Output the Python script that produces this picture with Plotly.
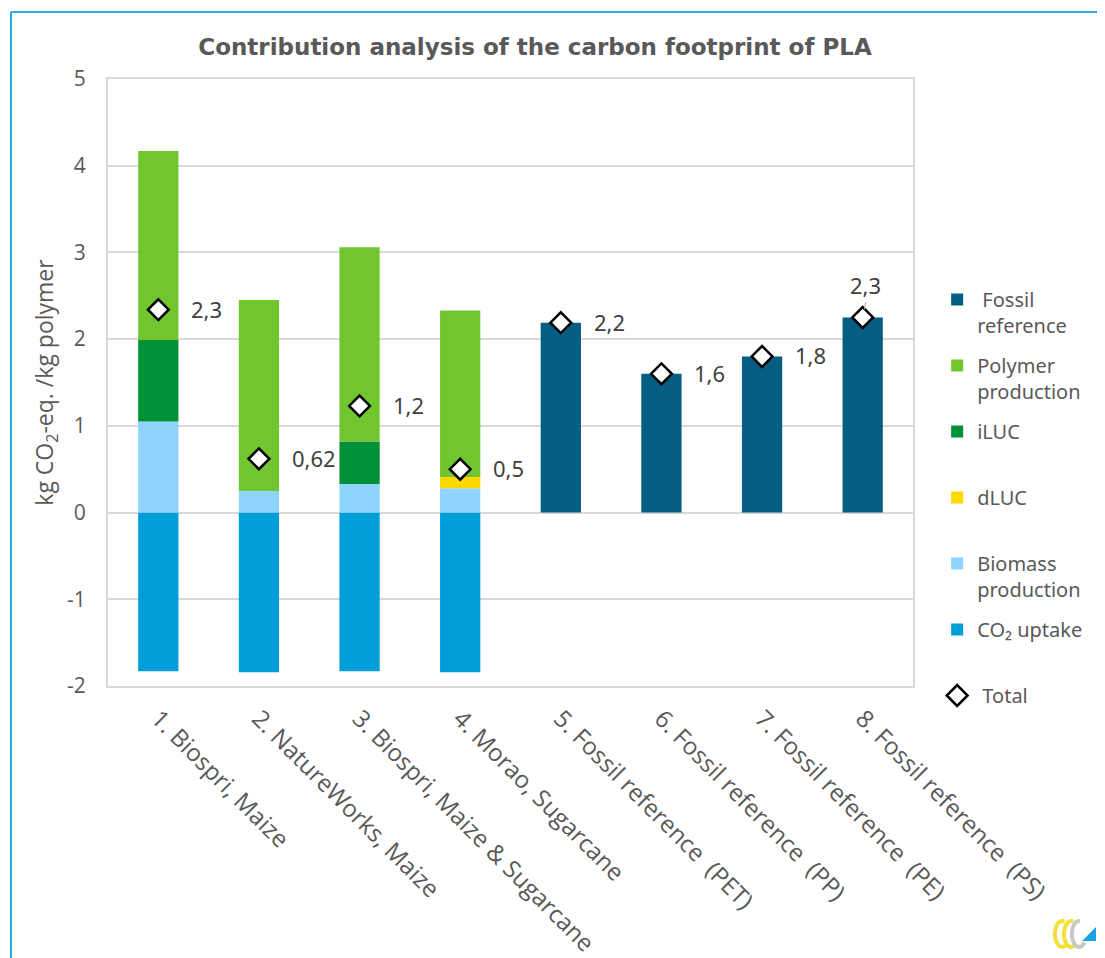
import math
import plotly.graph_objects as go

categories = [
    "1. Biospri, Maize",
    "2. NatureWorks, Maize",
    "3. Biospri, Maize & Sugarcane",
    "4. Morao, Sugarcane",
    "5. Fossil reference  (PET)",
    "6. Fossil reference  (PP)",
    "7. Fossil reference  (PE)",
    "8. Fossil reference  (PS)",
]

co2_uptake = [-1.83, -1.84, -1.83, -1.84, None, None, None, None]
biomass_production = [1.05, 0.25, 0.33, 0.28, None, None, None, None]
dluc = [0.0, 0.0, 0.0, 0.13, None, None, None, None]
iluc = [0.94, 0.0, 0.49, 0.0, None, None, None, None]
polymer_production = [2.18, 2.20, 2.24, 1.92, None, None, None, None]
fossil_reference = [None, None, None, None, 2.19, 1.60, 1.80, 2.25]
total = [2.34, 0.62, 1.23, 0.50, 2.19, 1.60, 1.80, 2.25]
total_labels = ["2,3", "0,62", "1,2", "0,5", "2,2", "1,6", "1,8", "2,3"]

y_tickvals = [-2, -1, 0, 1, 2, 3, 4, 5]
y_ticktext = ["-2", "-1", "0", "1", "2", "3", "4", "5"]

LABEL_FONT = "Noto Sans"
TITLE_FONT = "DejaVu Sans"
TICK_FONT = "Open Sans"
GRAY = "#595959"

# plot-area geometry inside the figure (pixels)
L, T, W, H = 100, 71, 805, 607


def px(x, y):
    """page pixel -> paper coords (page offset of 8px removed)."""
    return (x - 8 - L) / W, (T + H - (y - 8)) / H


fig = go.Figure()

bar_specs = [
    ("CO₂ uptake<br>&nbsp;", co2_uptake, "#009ED8", 6),
    ("Biomass<br>production", biomass_production, "#8FD4FE", 5),
    ("dLUC<br>&nbsp;", dluc, "#FFD800", 4),
    ("iLUC<br>&nbsp;", iluc, "#009035", 3),
    ("Polymer<br>production", polymer_production, "#71C62F", 2),
    (" Fossil<br>reference", fossil_reference, "#035E82", 1),
]
for name, vals, color, rank in bar_specs:
    fig.add_trace(go.Bar(
        x=categories, y=vals, name=name,
        marker=dict(color=color, line=dict(width=0)),
        legendgroup="g%d" % rank, legendrank=rank,
    ))

fig.add_trace(go.Scatter(
    x=categories, y=total, name=" Total<br>&nbsp;", mode="markers",
    marker=dict(symbol="diamond", size=16, color="white",
                line=dict(color="black", width=2.5)),
    legendgroup="g7", legendrank=7,
))

for i, (c, v, t) in enumerate(zip(categories, total, total_labels)):
    if i == len(categories) - 1:
        fig.add_annotation(x=c, y=v, text=t, showarrow=True, arrowhead=0,
                           arrowwidth=1, arrowcolor="#a6a6a6", ax=3, ay=-15,
                           standoff=8, yanchor="bottom",
                           font=dict(family=LABEL_FONT, size=22, color="#404040"))
    else:
        fig.add_annotation(x=c, y=v, text=t, showarrow=False, xanchor="left",
                           xshift=31, yshift=1,
                           font=dict(family=LABEL_FONT, size=22, color="#404040"))

# outer frame (top and left light-blue lines)
x0, y0 = px(11, 12)
x1, y1 = px(1110, 965)
fig.add_shape(type="line", xref="paper", yref="paper", x0=x0, x1=x1, y0=y0, y1=y0,
              line=dict(color="#29ABE2", width=2))
fig.add_shape(type="line", xref="paper", yref="paper", x0=x0, x1=x0, y0=y0, y1=y1,
              line=dict(color="#29ABE2", width=2))


# small decorative logo (bottom right)
def arc_path(cx, cy, rx, ry, a0, a1, n=24):
    pts = []
    for k in range(n + 1):
        a = math.radians(a0 + (a1 - a0) * k / n)
        pts.append(px(cx + rx * math.cos(a), cy - ry * math.sin(a)))
    return "M " + " L ".join("%.5f,%.5f" % p for p in pts)


for cx, col in [(1062, "#F3E03B"), (1071, "#F3E03B"), (1079, "#C8C8C8")]:
    a0, a1 = (70, 300) if col != "#C8C8C8" else (80, 320)
    fig.add_shape(type="path", xref="paper", yref="paper",
                  path=arc_path(cx, 934, 7, 13, a0, a1),
                  line=dict(color=col, width=4))
tri = [px(1082, 941), px(1096, 941), px(1096, 927)]
fig.add_shape(type="path", xref="paper", yref="paper",
              path="M %.5f,%.5f L %.5f,%.5f L %.5f,%.5f Z" % (tri[0] + tri[1] + tri[2]),
              fillcolor="#1AA3E0", line=dict(width=0))

fig.update_layout(
    width=1105, height=958,
    margin=dict(l=L, r=1105 - L - W, t=T, b=958 - T - H, autoexpand=False),
    paper_bgcolor="white", plot_bgcolor="white",
    barmode="relative", bargap=0.6,
    title=dict(text="<b>Contribution analysis of the carbon footprint of PLA</b>",
               x=(527 - L) / W, xref="paper", xanchor="center",
               y=1 - 39 / 958, yanchor="middle",
               font=dict(family=TITLE_FONT, size=23, color=GRAY)),
    legend=dict(x=1.03, xanchor="left", y=(T + H - 272) / H, yanchor="top",
                traceorder="grouped", valign="top", tracegroupgap=11,
                font=dict(family=LABEL_FONT, size=20, color=GRAY),
                bgcolor="rgba(0,0,0,0)"),
    xaxis=dict(tickangle=45, showgrid=False, showline=True, mirror=True,
               linecolor="#d9d9d9", linewidth=2, ticks="", ticklabelstandoff=7,
               automargin=False,
               tickfont=dict(family=TICK_FONT, size=24, color=GRAY)),
    yaxis=dict(range=[-2, 5], tickvals=y_tickvals, ticktext=y_ticktext,
               showgrid=True, gridcolor="#d9d9d9", automargin=False,
               gridwidth=1.5, zeroline=False, showline=True, mirror=True,
               linecolor="#d9d9d9", linewidth=2, ticks="", ticklabelstandoff=16,
               tickfont=dict(family=TICK_FONT, size=21, color=GRAY),
               title=dict(text="kg CO<sub>2</sub>-eq. /kg polymer", standoff=7,
                          font=dict(family=TICK_FONT, size=23, color=GRAY))),
)

fig.write_html("out.html")
